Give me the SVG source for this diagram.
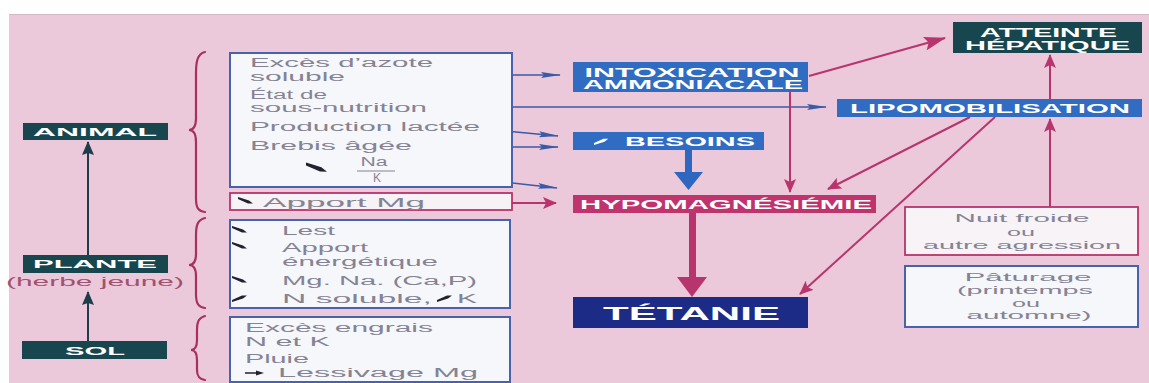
<svg xmlns="http://www.w3.org/2000/svg" width="1149" height="383" viewBox="0 0 1149 383">
<defs>
<style>
.lbl{font-family:"Liberation Sans",Arial,sans-serif;font-weight:bold;fill:#ffffff;}
.g{font-family:"Liberation Sans",Arial,sans-serif;font-size:12px;fill:#858393;}
.gs{font-family:"Liberation Sans",Arial,sans-serif;font-size:11px;fill:#858393;}
.lb{stroke:#3b5aa6;stroke-width:1.6;fill:none;}
.lc{stroke:#b8346c;stroke-width:2;fill:none;}
.lt{stroke:#1d3d4a;stroke-width:2;fill:none;}
.br{stroke:#a8305e;stroke-width:2.2;fill:none;stroke-linecap:round;}
.sym{fill:#22222e;}
</style>
<marker id="mb" markerUnits="userSpaceOnUse" markerWidth="20" markerHeight="8" refX="19" refY="4" orient="auto"><path d="M0,1 L20,4 L0,7 L3,4 Z" fill="#3b5aa6"/></marker>
<marker id="mc" markerUnits="userSpaceOnUse" markerWidth="14" markerHeight="12" refX="13" refY="6" orient="auto"><path d="M0,0 L14,6 L0,12 L3,6 Z" fill="#b8346c"/></marker>
<marker id="mc2" markerUnits="userSpaceOnUse" markerWidth="22" markerHeight="14" refX="21" refY="7" orient="auto"><path d="M0,0 L22,7 L0,14 L4,7 Z" fill="#b8346c"/></marker>
<marker id="mt" markerUnits="userSpaceOnUse" markerWidth="14" markerHeight="12" refX="13" refY="6" orient="auto"><path d="M0,0 L14,6 L0,12 L2,6 Z" fill="#1d3d4a"/></marker>
<path id="sdn" d="M0,-1 L11,2.4 L15,5.5 L10,5.4 L0,1 Z"/>
<path id="sup" d="M0,1 L11,-2.4 L15,-5.5 L10,-5.4 L0,-1 Z"/>
</defs>

<rect x="0" y="0" width="1149" height="383" fill="#ffffff"/>
<rect x="9" y="14" width="1140" height="369" fill="#ebc9db"/>
<line x1="9" y1="14.5" x2="1149" y2="14.5" stroke="#d8b8c8" stroke-width="1"/>

<g id="connectors">
  <line class="lt" x1="88" y1="255" x2="88" y2="142" marker-end="url(#mt)"/>
  <line class="lt" x1="88" y1="342" x2="88" y2="292" marker-end="url(#mt)"/>
  <path class="br" d="M205,52 C197,54 196,62 196,74 L196,118 C196,126 194,130 189,130 C194,130 196,134 196,142 L196,198 C196,208 198,211 205,212"/>
  <path class="br" d="M205,218 C197,220 196,226 196,236 L196,254 C196,261 194,265 189,265 C194,265 196,269 196,276 L196,294 C196,303 198,307 205,308"/>
  <path class="br" d="M205,316 C198,318 197,323 197,330 L197,340 C197,346 195,350 191,350 C195,350 197,354 197,360 L197,370 C197,376 199,379 205,380"/>
  <line class="lb" x1="367" y1="75" x2="560" y2="75" marker-end="url(#mb)"/>
  <line class="lb" x1="442" y1="107" x2="826" y2="107" marker-end="url(#mb)"/>
  <line class="lb" x1="495" y1="130" x2="558" y2="136" marker-end="url(#mb)"/>
  <line class="lb" x1="425" y1="147" x2="558" y2="147" marker-end="url(#mb)"/>
  <line class="lb" x1="405" y1="171" x2="557" y2="188" marker-end="url(#mb)"/>
  <line class="lc" x1="433" y1="203" x2="556" y2="203" marker-end="url(#mc)"/>
  <line class="lc" x1="809" y1="76" x2="945" y2="38" stroke-width="4" marker-end="url(#mc2)"/>
  <line class="lc" x1="790" y1="92" x2="790" y2="192" marker-end="url(#mc)"/>
  <line class="lc" x1="970" y1="117" x2="828" y2="189" marker-end="url(#mc)"/>
  <line class="lc" x1="995" y1="117" x2="800" y2="294" marker-end="url(#mc)"/>
  <line class="lc" x1="1050" y1="207" x2="1050" y2="119" stroke-width="2.5" marker-end="url(#mc)"/>
  <line class="lc" x1="1050" y1="99" x2="1050" y2="55" stroke-width="2.5" marker-end="url(#mc)"/>
  <rect x="685" y="150" width="7" height="24" fill="#2f66bf"/>
  <polygon points="674,172 703,172 688.5,190" fill="#2f66bf"/>
  <rect x="689" y="213" width="7" height="66" fill="#b8346c"/>
  <polygon points="677,277 707,277 692,297" fill="#b8346c"/>
</g>

<g id="animal">
  <rect x="23" y="123" width="145" height="17" fill="#17464f"/>
  <text class="lbl" x="95" y="135.5" font-size="11.5" text-anchor="middle" textLength="124" lengthAdjust="spacingAndGlyphs">ANIMAL</text>
</g>
<g id="plante">
  <rect x="23" y="255" width="145" height="18" fill="#17464f"/>
  <text class="lbl" x="95" y="268" font-size="11.5" text-anchor="middle" textLength="124" lengthAdjust="spacingAndGlyphs">PLANTE</text>
  <text x="95" y="286" font-family="Liberation Sans,Arial,sans-serif" font-size="12" fill="#a0526e" text-anchor="middle" textLength="178" lengthAdjust="spacingAndGlyphs">(herbe jeune)</text>
</g>
<g id="sol">
  <rect x="22" y="341" width="145" height="18" fill="#17464f"/>
  <text class="lbl" x="95" y="354.5" font-size="11.5" text-anchor="middle" textLength="60" lengthAdjust="spacingAndGlyphs">SOL</text>
</g>

<g id="facteurs-animal">
  <rect x="230" y="53" width="282" height="134" fill="#f6f7fb" stroke="#4a62ad" stroke-width="2"/>
  <text class="g" x="250" y="67" textLength="183" lengthAdjust="spacingAndGlyphs">Excès d’azote</text>
  <text class="g" x="250" y="81" textLength="95" lengthAdjust="spacingAndGlyphs">soluble</text>
  <text class="g" x="250" y="99" textLength="77" lengthAdjust="spacingAndGlyphs">État de</text>
  <text class="g" x="250" y="112" textLength="177" lengthAdjust="spacingAndGlyphs">sous-nutrition</text>
  <text class="g" x="250" y="131" textLength="230" lengthAdjust="spacingAndGlyphs">Production lactée</text>
  <text class="g" x="250" y="150" textLength="162" lengthAdjust="spacingAndGlyphs">Brebis âgée</text>
  <use href="#sdn" class="sym" transform="translate(306,164) scale(1.4)"/>
  <text class="g" x="374" y="166" text-anchor="middle" textLength="27" lengthAdjust="spacingAndGlyphs">Na</text>
  <line x1="357" y1="171" x2="395" y2="171" stroke="#858393" stroke-width="1"/>
  <text class="g" x="377" y="182" text-anchor="middle">K</text>
</g>
<g id="apport-mg">
  <rect x="230" y="193" width="282" height="17" fill="#f6f2f5" stroke="#b8346c" stroke-width="1.8"/>
  <use href="#sdn" class="sym" transform="translate(238,198)"/>
  <text class="g" x="263" y="207" textLength="162" lengthAdjust="spacingAndGlyphs">Apport Mg</text>
</g>
<g id="facteurs-plante">
  <rect x="230" y="220" width="280" height="88" fill="#f6f7fb" stroke="#4a62ad" stroke-width="2"/>
  <use href="#sdn" class="sym" transform="translate(232,227)"/>
  <text class="g" x="282" y="235" textLength="53" lengthAdjust="spacingAndGlyphs">Lest</text>
  <use href="#sdn" class="sym" transform="translate(232,243)"/>
  <text class="g" x="282" y="252" textLength="86" lengthAdjust="spacingAndGlyphs">Apport</text>
  <text class="g" x="282" y="266" textLength="156" lengthAdjust="spacingAndGlyphs">énergétique</text>
  <use href="#sdn" class="sym" transform="translate(232,277)"/>
  <text class="g" x="282" y="285" textLength="195" lengthAdjust="spacingAndGlyphs">Mg. Na. (Ca,P)</text>
  <use href="#sup" class="sym" transform="translate(232,301)"/>
  <text class="g" x="282" y="303" textLength="150" lengthAdjust="spacingAndGlyphs">N soluble,</text>
  <use href="#sup" class="sym" transform="translate(437,301)"/>
  <text class="g" x="457" y="303" textLength="20" lengthAdjust="spacingAndGlyphs">K</text>
</g>
<g id="facteurs-sol">
  <rect x="230" y="317" width="280" height="65" fill="#f6f7fb" stroke="#4a62ad" stroke-width="2"/>
  <text class="g" x="245" y="332" textLength="188" lengthAdjust="spacingAndGlyphs">Excès engrais</text>
  <text class="g" x="245" y="346" textLength="85" lengthAdjust="spacingAndGlyphs">N et K</text>
  <text class="g" x="245" y="363" textLength="64" lengthAdjust="spacingAndGlyphs">Pluie</text>
  <line x1="245" y1="373" x2="257" y2="373" stroke="#22222e" stroke-width="1.5"/>
  <polygon points="256,370.5 264,373 256,375.5" fill="#22222e"/>
  <text class="g" x="278" y="377" textLength="200" lengthAdjust="spacingAndGlyphs">Lessivage Mg</text>
</g>

<g id="intoxication">
  <rect x="573" y="62" width="235" height="30" fill="#2f6cc2"/>
  <text class="lbl" x="692" y="76.5" font-size="12.5" text-anchor="middle" textLength="215" lengthAdjust="spacingAndGlyphs">INTOXICATION</text>
  <text class="lbl" x="693" y="88.5" font-size="12.5" text-anchor="middle" textLength="220" lengthAdjust="spacingAndGlyphs">AMMONIACALE</text>
</g>
<g id="lipomobilisation">
  <rect x="837" y="99" width="305" height="18" fill="#2f6cc2"/>
  <text class="lbl" x="990" y="112.5" font-size="12.5" text-anchor="middle" textLength="280" lengthAdjust="spacingAndGlyphs">LIPOMOBILISATION</text>
</g>
<g id="besoins">
  <rect x="573" y="132" width="191" height="18" fill="#2f6cc2"/>
  <use href="#sup" fill="#ffffff" transform="translate(594,144) scale(0.95)"/>
  <text class="lbl" x="690" y="145.5" font-size="12.5" text-anchor="middle" textLength="130" lengthAdjust="spacingAndGlyphs">BESOINS</text>
</g>
<g id="hypomagnesiemie">
  <rect x="573" y="195" width="303" height="18" fill="#c0346e"/>
  <text class="lbl" x="726" y="208.5" font-size="12.5" text-anchor="middle" textLength="292" lengthAdjust="spacingAndGlyphs">HYPOMAGNÉSIÉMIE</text>
</g>
<g id="tetanie">
  <rect x="573" y="297" width="235" height="31" fill="#1c2c86"/>
  <text class="lbl" x="691.5" y="319.5" font-size="18" text-anchor="middle" textLength="177" lengthAdjust="spacingAndGlyphs">TÉTANIE</text>
</g>
<g id="atteinte">
  <rect x="953" y="22" width="189" height="31" fill="#17464f"/>
  <text class="lbl" x="1048.5" y="36.5" font-size="12.5" text-anchor="middle" textLength="137" lengthAdjust="spacingAndGlyphs">ATTEINTE</text>
  <text class="lbl" x="1047.5" y="49.5" font-size="12.5" text-anchor="middle" textLength="165" lengthAdjust="spacingAndGlyphs">HÉPATIQUE</text>
</g>
<g id="nuit-froide">
  <rect x="905" y="207" width="233" height="48" fill="#f7f3f6" stroke="#b8346c" stroke-width="1.8"/>
  <text class="gs" x="1022" y="222" text-anchor="middle" textLength="135" lengthAdjust="spacingAndGlyphs">Nuit froide</text>
  <text class="gs" x="1021" y="235.5" text-anchor="middle" textLength="28" lengthAdjust="spacingAndGlyphs">ou</text>
  <text class="gs" x="1022" y="248.5" text-anchor="middle" textLength="198" lengthAdjust="spacingAndGlyphs">autre agression</text>
</g>
<g id="paturage">
  <rect x="905" y="266" width="233" height="61" fill="#f6f7fb" stroke="#4a62ad" stroke-width="2"/>
  <text class="gs" x="1028" y="281" text-anchor="middle" textLength="127" lengthAdjust="spacingAndGlyphs">Pâturage</text>
  <text class="gs" x="1025" y="294" text-anchor="middle" textLength="136" lengthAdjust="spacingAndGlyphs">(printemps</text>
  <text class="gs" x="1026" y="306.5" text-anchor="middle" textLength="28" lengthAdjust="spacingAndGlyphs">ou</text>
  <text class="gs" x="1029" y="319" text-anchor="middle" textLength="125" lengthAdjust="spacingAndGlyphs">automne)</text>
</g>
</svg>
